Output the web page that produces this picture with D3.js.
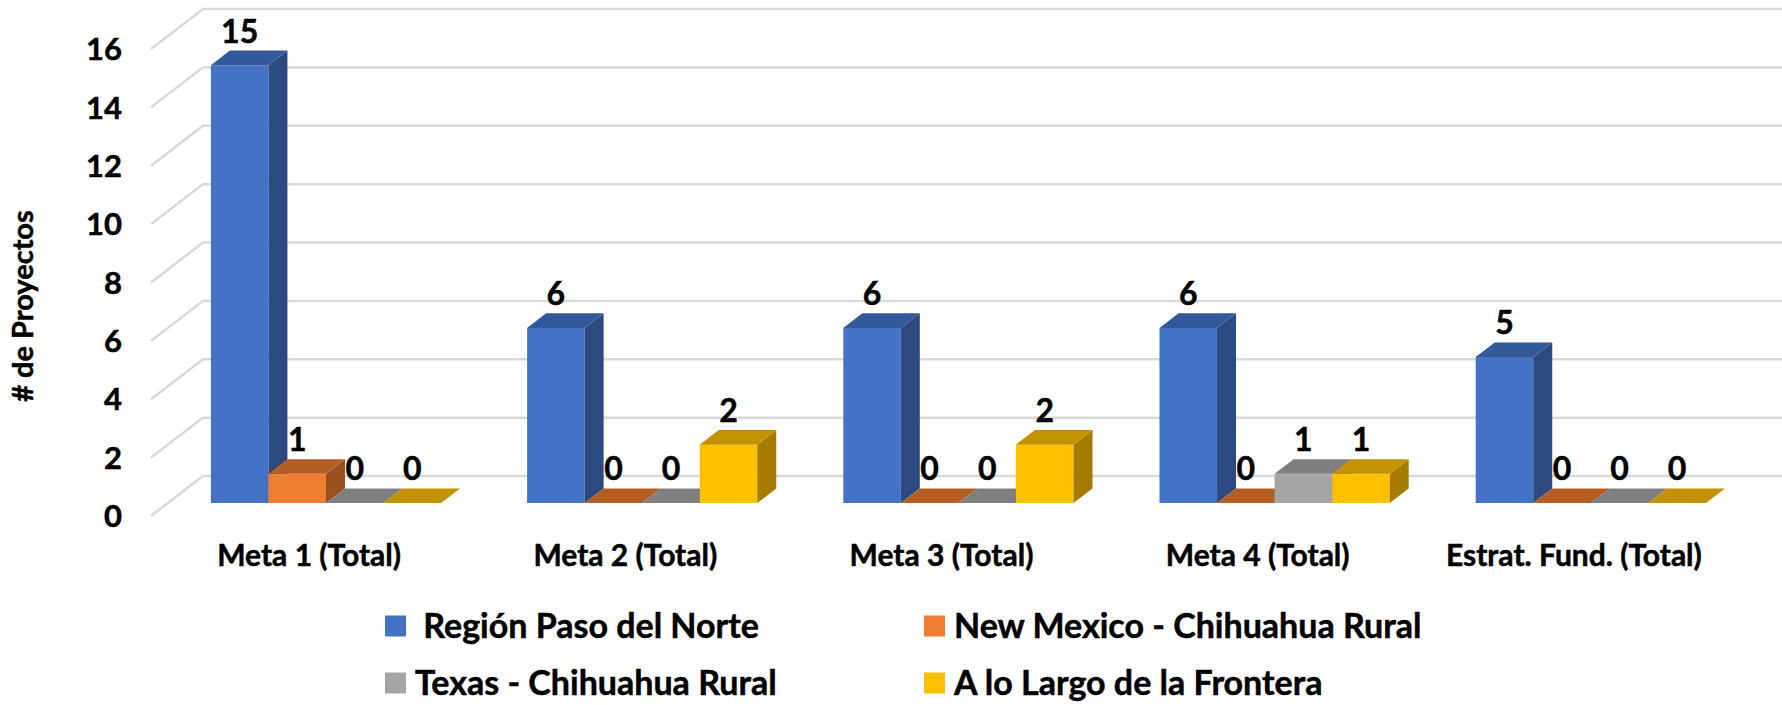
<!DOCTYPE html>
<html>
<head>
<meta charset="utf-8">
<script src="https://cdn.jsdelivr.net/npm/d3@7"></script>
<style>
  body { margin: 0; background: #fff; }
  text { font-family: Lato, "Open Sans", sans-serif; font-weight: bold; fill: #000; stroke: #000; stroke-width: 0.5px; white-space: pre; }
</style>
</head>
<body>
<svg id="chart" width="1782" height="705"></svg>
<script>
// data
var categories = ["Meta 1 (Total)", "Meta 2 (Total)", "Meta 3 (Total)", "Meta 4 (Total)", "Estrat. Fund. (Total)"];
var seriesNames = [" Región Paso del Norte", "New Mexico - Chihuahua Rural", "Texas - Chihuahua Rural", "A lo Largo de la Frontera"];
var pasoNorte = [15, 6, 6, 6, 5];
var nmRural = [1, 0, 0, 0, 0];
var txRural = [0, 0, 0, 1, 0];
var frontera = [0, 2, 2, 1, 0];
var yTicks = [0, 2, 4, 6, 8, 10, 12, 14, 16];

var seriesValues = [pasoNorte, nmRural, txRural, frontera];

// face colours: front, top, side
var colors = [
  {front: "#4472C4", top: "#34599A", side: "#2C4A80"},
  {front: "#ED7D31", top: "#B55E24", side: "#9A4F1D"},
  {front: "#A5A5A5", top: "#7F7F7F", side: "#6C6C6C"},
  {front: "#FFC000", top: "#C39200", side: "#A67C00"}
];

var width = 1782, height = 705;
var DX = 52, DY = 40;        // depth of the floor
var zFront = 0.325, zBack = 0.69;

var svg = d3.select("#chart");

var x = d3.scaleBand()
    .domain(categories)
    .range([151, 1732])
    .paddingInner(0.272)
    .paddingOuter(0.136);

var xs = d3.scaleBand()
    .domain(d3.range(seriesNames.length))
    .range([0, x.bandwidth()]);

var y = d3.scaleLinear()
    .domain([0, 16])
    .range([516, 49]);

function P(px, v, z) {
  return [px + z * DX, y(v) - z * DY];
}

// gridlines: side wall diagonal + back wall line
var grid = svg.append("g").attr("class", "grid");
grid.selectAll("path")
    .data(yTicks)
  .enter().append("path")
    .attr("d", function(d) {
      var a = P(x.range()[0], d, 0), b = P(x.range()[0], d, 1);
      return "M" + a + "L" + b + "L" + [width + 5, b[1]];
    })
    .attr("fill", "none")
    .attr("stroke", "#d9d9d9")
    .attr("stroke-width", 2.5);

// y tick labels
svg.append("g").selectAll("text")
    .data(yTicks)
  .enter().append("text")
    .attr("x", 122)
    .attr("y", function(d) { return y(d); })
    .attr("dy", "0.36em")
    .attr("text-anchor", "end")
    .style("font-size", "31px")
    .text(function(d) { return d; });

// y axis title
svg.append("text")
    .attr("transform", "translate(23,306)rotate(-90)")
    .attr("text-anchor", "middle")
    .attr("dy", "0.36em")
    .style("font-size", "29px")
    .text("# de Proyectos");

// bars
var bars = [];
categories.forEach(function(c, i) {
  seriesValues.forEach(function(vals, j) {
    bars.push({cat: c, s: j, v: vals[i]});
  });
});

function poly(pts) { return "M" + pts.join("L") + "Z"; }

var bar = svg.append("g").selectAll("g")
    .data(bars)
  .enter().append("g");

bar.append("path")
    .attr("d", function(d) {
      var x0 = x(d.cat) + xs(d.s), x1 = x0 + xs.bandwidth();
      return poly([P(x0, 0, zFront), P(x1, 0, zFront), P(x1, d.v, zFront), P(x0, d.v, zFront)]);
    })
    .attr("fill", function(d) { return colors[d.s].front; });

bar.append("path")
    .attr("d", function(d) {
      var x1 = x(d.cat) + xs(d.s) + xs.bandwidth();
      return poly([P(x1, 0, zFront), P(x1, 0, zBack), P(x1, d.v, zBack), P(x1, d.v, zFront)]);
    })
    .attr("fill", function(d) { return colors[d.s].side; });

bar.append("path")
    .attr("d", function(d) {
      var x0 = x(d.cat) + xs(d.s), x1 = x0 + xs.bandwidth();
      return poly([P(x0, d.v, zFront), P(x1, d.v, zFront), P(x1, d.v, zBack), P(x0, d.v, zBack)]);
    })
    .attr("fill", function(d) { return colors[d.s].top; });

// data labels
bar.append("text")
    .attr("x", function(d) { return P(x(d.cat) + xs(d.s) + xs.bandwidth() / 2, d.v, zFront)[0]; })
    .attr("y", function(d) { return P(0, d.v, zBack)[1] - 8; })
    .attr("text-anchor", "middle")
    .style("font-size", "32px")
    .text(function(d) { return d.v; });

// category labels
svg.append("g").selectAll("text")
    .data(categories)
  .enter().append("text")
    .attr("x", function(d) { return x(d) + x.bandwidth() / 2; })
    .attr("y", 555)
    .attr("dy", "0.36em")
    .attr("text-anchor", "middle")
    .style("font-size", "30px")
    .text(function(d) { return d; });

// legend
var legendX = [385, 924], legendY = [626, 683];
var item = svg.append("g").selectAll("g")
    .data(seriesNames)
  .enter().append("g")
    .attr("transform", function(d, i) { return "translate(" + legendX[i % 2] + "," + legendY[Math.floor(i / 2)] + ")"; });

item.append("rect")
    .attr("y", -10.5)
    .attr("width", 21)
    .attr("height", 21)
    .attr("fill", function(d, i) { return colors[i].front; });

item.append("text")
    .attr("x", 30)
    .attr("dy", "0.35em")
    .style("font-size", "34px")
    .text(function(d) { return d; });
</script>
</body>
</html>
